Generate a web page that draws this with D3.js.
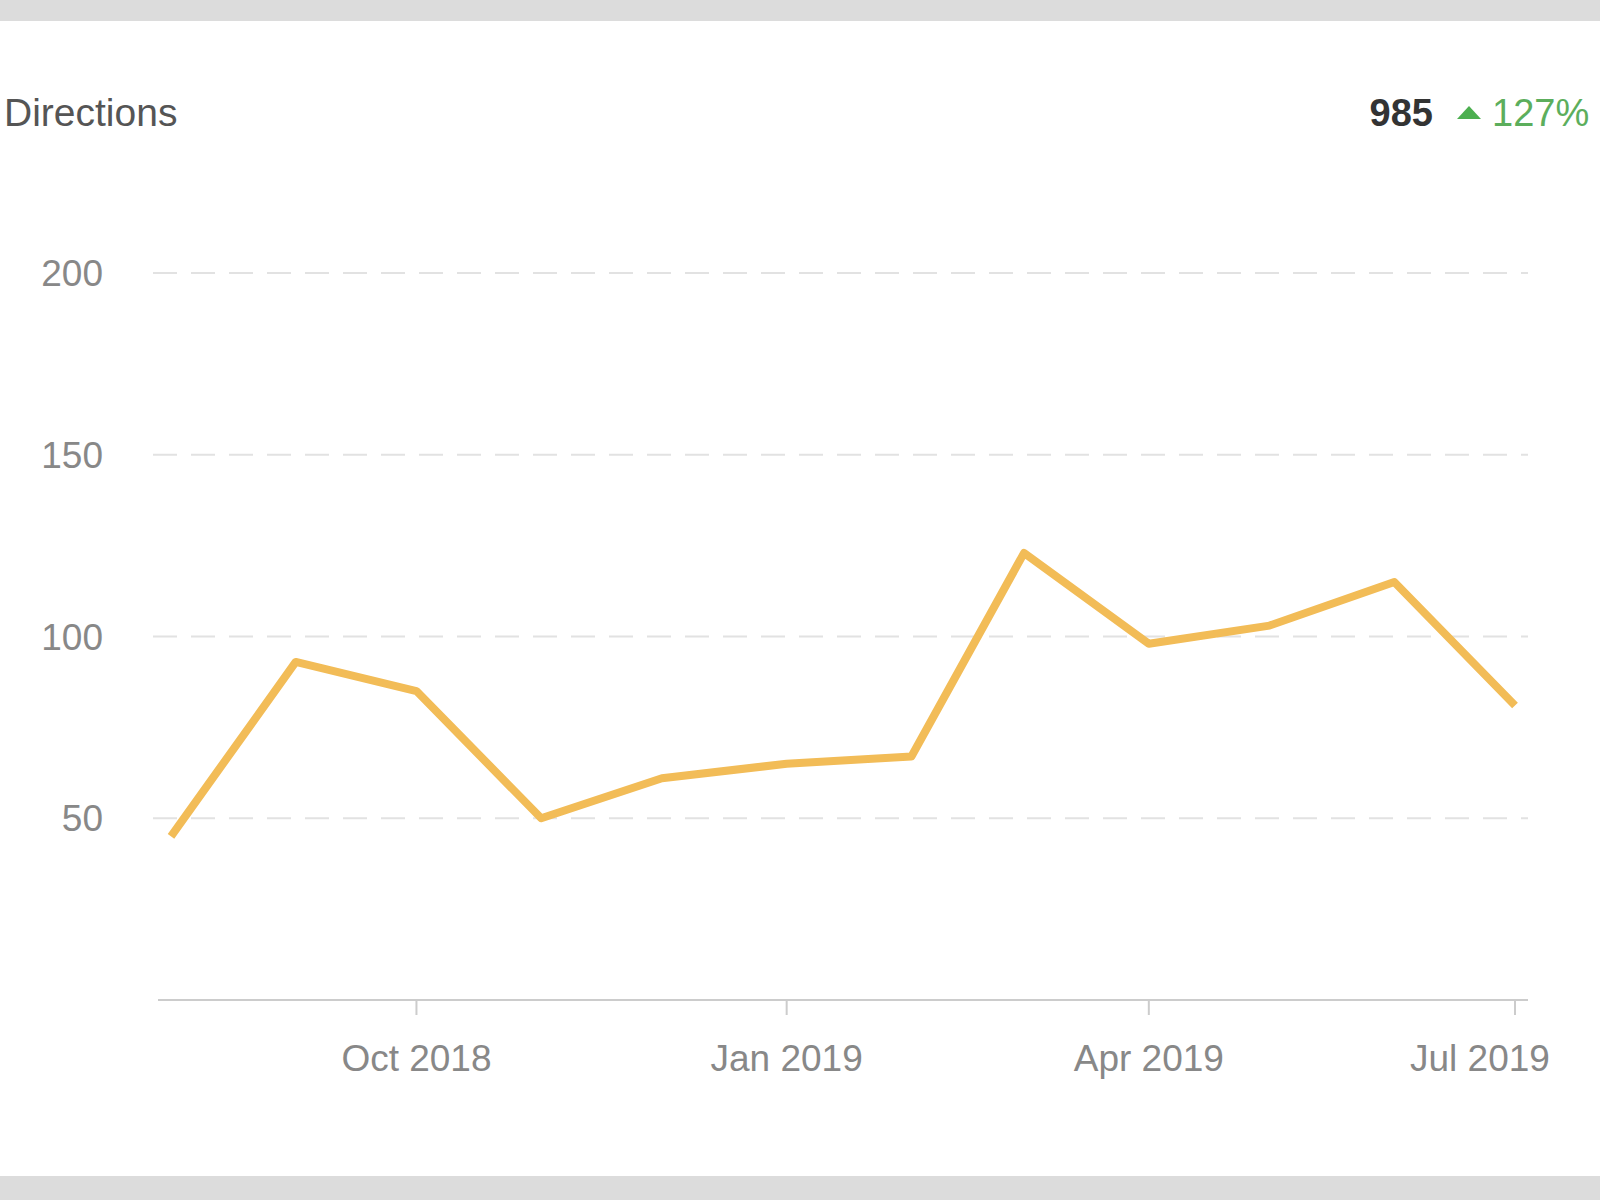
<!DOCTYPE html><html><head><meta charset="utf-8"><script src="https://cdn.jsdelivr.net/npm/d3@7"></script>
<style>body{margin:0;background:#fff}svg{display:block;font-family:Arial,"Liberation Sans",sans-serif}</style></head><body>
<script>
const months=["2018-08-01","2018-09-01","2018-10-01","2018-11-01","2018-12-01","2019-01-01","2019-02-01","2019-03-01","2019-04-01","2019-05-01","2019-06-01","2019-07-01"];
const values=[45,93,85,50,61,65,67,123,98,103,115,81];
const yTicks=[50,100,150,200];
const xTicks=["2018-10-01","2019-01-01","2019-04-01","2019-07-01"];
const xTickLabels=["Oct 2018","Jan 2019","Apr 2019","Jul 2019"];
const title="Directions", total="985", change="127%";
const W=1600,H=1200;
const svg=d3.select("body").append("svg").attr("width",W).attr("height",H);
svg.append("rect").attr("width",W).attr("height",21).attr("fill","#dcdcdc");
svg.append("rect").attr("y",1176).attr("width",W).attr("height",24).attr("fill","#dcdcdc");
const p=d3.timeParse("%Y-%m-%d");
const x=d3.scaleTime().domain([p(months[0]),p(months[11])]).range([171,1515]);
const y=d3.scaleLinear().domain([0,200]).range([1000,273]);
svg.append("text").attr("x",4).attr("y",126).attr("font-size",39).attr("fill","#555").text(title);
svg.append("text").attr("x",1433).attr("y",126).attr("text-anchor","end").attr("font-size",38).attr("font-weight","bold").attr("fill","#333").text(total);
svg.append("path").attr("d","M1457,119 L1481,119 L1469,106 Z").attr("fill","#4caf50");
svg.append("text").attr("x",1492).attr("y",126).attr("font-size",38).attr("fill","#5cae5c").text(change);
const g=svg.append("g");
yTicks.forEach(t=>{
 g.append("line").attr("x1",153).attr("x2",1528).attr("y1",y(t)).attr("y2",y(t)).attr("stroke","#e2e2e2").attr("stroke-width",2).attr("stroke-dasharray","24,14");
 g.append("text").attr("x",103).attr("y",y(t)+13).attr("text-anchor","end").attr("font-size",37).attr("fill","#888").text(t);
});
g.append("line").attr("x1",158).attr("x2",1528).attr("y1",1000).attr("y2",1000).attr("stroke","#ccc").attr("stroke-width",2);
xTicks.forEach((t,i)=>{
 const xx=x(p(t));
 g.append("line").attr("x1",xx).attr("x2",xx).attr("y1",1000).attr("y2",1015).attr("stroke","#ccc").attr("stroke-width",2);
 g.append("text").attr("x",Math.min(xx,1480)).attr("y",1071).attr("text-anchor","middle").attr("font-size",37).attr("fill","#888").text(xTickLabels[i]);
});
const line=d3.line().x((d,i)=>x(p(months[i]))).y(d=>y(d));
svg.append("path").datum(values).attr("d",line).attr("fill","none").attr("stroke","#f2bc57").attr("stroke-width",8).attr("stroke-linejoin","round");
</script></body></html>
